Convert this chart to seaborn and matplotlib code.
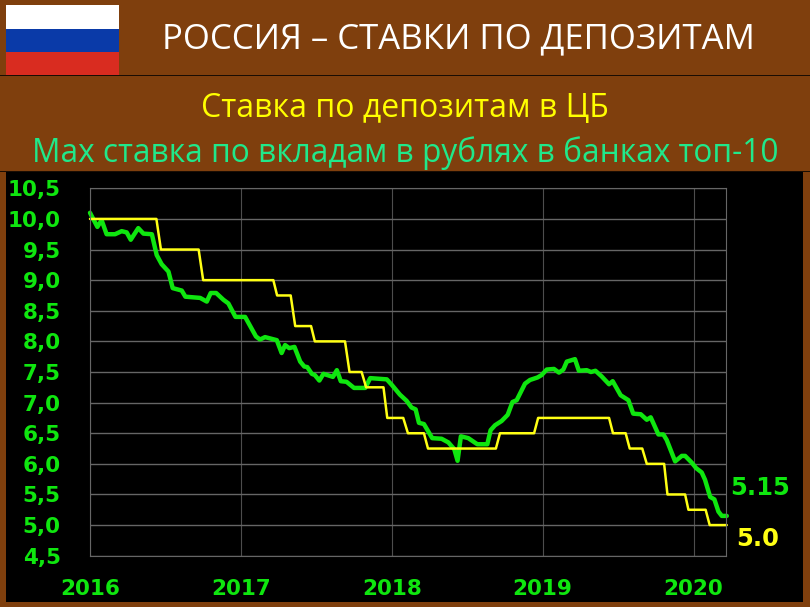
import pandas as pd
import seaborn as sns
import matplotlib.pyplot as plt
from matplotlib.patches import Rectangle

# данные: ставка по депозитам в ЦБ
cb_time = [2016.0, 2016.44, 2016.47, 2016.72, 2016.75, 2017.215, 2017.24, 2017.33, 2017.36, 2017.465,
           2017.49, 2017.69, 2017.72, 2017.80, 2017.83, 2017.945, 2017.97, 2018.076, 2018.107, 2018.213,
           2018.24, 2018.69, 2018.717, 2018.943, 2018.97, 2019.44, 2019.466, 2019.55, 2019.577, 2019.66,
           2019.69, 2019.805, 2019.827, 2019.944, 2019.966, 2020.08, 2020.107, 2020.22]
cb_rate = [10.0, 10.0, 9.5, 9.5, 9.0, 9.0, 8.75, 8.75, 8.25, 8.25,
           8.0, 8.0, 7.5, 7.5, 7.25, 7.25, 6.75, 6.75, 6.5, 6.5,
           6.25, 6.25, 6.5, 6.5, 6.75, 6.75, 6.5, 6.5, 6.25, 6.25,
           6.0, 6.0, 5.5, 5.5, 5.25, 5.25, 5.0, 5.0]

# макс. ставка по вкладам в рублях, топ-10 банков
top10_time = [2016.0, 2016.049, 2016.077, 2016.11, 2016.166, 2016.21, 2016.243, 2016.27, 2016.32, 2016.354,
              2016.41, 2016.442, 2016.475, 2016.52, 2016.548, 2016.608, 2016.632, 2016.73, 2016.774, 2016.80,
              2016.836, 2016.884, 2016.917, 2016.964, 2017.028, 2017.10, 2017.127, 2017.16, 2017.238, 2017.27,
              2017.293, 2017.32, 2017.355, 2017.393, 2017.42, 2017.44, 2017.47, 2017.49, 2017.52, 2017.547,
              2017.61, 2017.636, 2017.662, 2017.70, 2017.75, 2017.824, 2017.857, 2017.967, 2018.0, 2018.054,
              2018.098, 2018.131, 2018.158, 2018.18, 2018.213, 2018.268, 2018.33, 2018.375, 2018.414, 2018.436,
              2018.458, 2018.507, 2018.567, 2018.633, 2018.655, 2018.684, 2018.728, 2018.768, 2018.80, 2018.828,
              2018.883, 2018.916, 2018.965, 2018.993, 2019.027, 2019.075, 2019.108, 2019.137, 2019.16, 2019.214,
              2019.24, 2019.292, 2019.32, 2019.35, 2019.39, 2019.44, 2019.464, 2019.517, 2019.568, 2019.60,
              2019.65, 2019.69, 2019.716, 2019.767, 2019.80, 2019.822, 2019.878, 2019.922, 2019.944, 2019.988,
              2020.017, 2020.054, 2020.076, 2020.11, 2020.138, 2020.165, 2020.187, 2020.22]
top10_rate = [10.10, 9.87, 9.98, 9.75, 9.75, 9.80, 9.78, 9.66, 9.85, 9.76,
              9.75, 9.41, 9.26, 9.14, 8.87, 8.83, 8.73, 8.71, 8.65, 8.79,
              8.79, 8.68, 8.62, 8.40, 8.40, 8.08, 8.03, 8.07, 8.02, 7.81,
              7.94, 7.89, 7.91, 7.67, 7.59, 7.58, 7.47, 7.45, 7.36, 7.47,
              7.42, 7.53, 7.35, 7.34, 7.24, 7.24, 7.40, 7.38, 7.29, 7.13,
              7.03, 6.92, 6.89, 6.67, 6.65, 6.42, 6.41, 6.35, 6.24, 6.05,
              6.45, 6.42, 6.32, 6.32, 6.55, 6.63, 6.70, 6.80, 7.01, 7.04,
              7.31, 7.37, 7.41, 7.45, 7.54, 7.55, 7.49, 7.54, 7.67, 7.71,
              7.52, 7.53, 7.50, 7.52, 7.43, 7.30, 7.35, 7.12, 7.04, 6.82,
              6.81, 6.72, 6.76, 6.48, 6.48, 6.39, 6.04, 6.13, 6.13, 6.02,
              5.93, 5.86, 5.74, 5.46, 5.42, 5.22, 5.15, 5.15]

y_ticks = [4.5, 5.0, 5.5, 6.0, 6.5, 7.0, 7.5, 8.0, 8.5, 9.0, 9.5, 10.0, 10.5]
y_labels = ['4,5', '5,0', '5,5', '6,0', '6,5', '7,0', '7,5', '8,0', '8,5', '9,0', '9,5', '10,0', '10,5']
x_ticks = [2016, 2017, 2018, 2019, 2020]

W, H = 810, 607
BROWN = '#7f3f0d'
GREEN = '#0fe60f'
YELLOW = '#ffff14'
GRID = '#666666'

sns.set_style('dark')
plt.rcParams['font.family'] = ['Open Sans', 'DejaVu Sans']

fig = plt.figure(figsize=(W / 100, H / 100), dpi=100, facecolor=BROWN)


# прямоугольник в пикселях картинки
def box(x0, y0, x1, y1, color):
    fig.patches.append(Rectangle((x0 / W, 1 - y1 / H), (x1 - x0) / W, (y1 - y0) / H,
                                 transform=fig.transFigure, facecolor=color, edgecolor='none'))


# флаг, разделители и чёрная подложка
box(6, 5, 119, 29, '#ffffff')
box(6, 29, 119, 52, '#0a3aa8')
box(6, 52, 119, 75, '#d92c20')
box(0, 75, W, 76, '#1a0d03')
box(0, 171, W, 172, '#1a0d03')
box(6, 172, 803, 602, '#000000')

# заголовки
fig.text(458 / W, 1 - 39 / H, 'РОССИЯ – СТАВКИ ПО ДЕПОЗИТАМ', color='white', fontsize=25,
         ha='center', va='center')
fig.text(405 / W, 1 - 108 / H, 'Ставка по депозитам в ЦБ', color='#ffff00', fontsize=23,
         ha='center', va='center')
fig.text(405 / W, 1 - 153 / H, 'Мах ставка по вкладам в рублях в банках топ-10', color='#20e88a',
         fontsize=22.8, ha='center', va='center')

# график
ax = fig.add_axes([90 / W, 1 - 555.7 / H, (726 - 90) / W, (555.7 - 188.3) / H])
ax.set_zorder(5)
ax.set_facecolor('#000000')

cb_df = pd.DataFrame({'time': cb_time, 'rate': cb_rate})
top10_df = pd.DataFrame({'time': top10_time, 'rate': top10_rate})
sns.lineplot(data=top10_df, x='time', y='rate', color=GREEN, linewidth=3.2, estimator=None, sort=False, ax=ax,
             clip_on=False)
sns.lineplot(data=cb_df, x='time', y='rate', color=YELLOW, linewidth=1.8, estimator=None, sort=False, ax=ax,
             clip_on=False)

ax.set_xlim(2016, 2020.215)
ax.set_ylim(4.5, 10.5)
ax.set_xlabel('')
ax.set_ylabel('')
ax.set_xticks(x_ticks)
ax.set_yticks(y_ticks)
ax.set_yticklabels(y_labels)
ax.grid(True, axis='y', color=GRID, linewidth=1.0)
ax.grid(True, axis='x', color='#4d4d4d', linewidth=0.8)
ax.set_axisbelow(True)
for s in ax.spines.values():
    s.set_visible(True)
    s.set_color(GRID)
    s.set_linewidth(0.8)

ax.tick_params(axis='x', length=5, color='#333333', pad=11.5, labelcolor=GREEN)
ax.tick_params(axis='y', length=0, pad=21, labelcolor=GREEN)
for lb in ax.get_xticklabels() + ax.get_yticklabels():
    lb.set_family('DejaVu Sans')
    lb.set_fontweight('bold')
    lb.set_fontsize(15.5)

# подписи последних значений
fig.text(760 / W, 1 - 488 / H, '5.15', color=GREEN, fontsize=17.5, fontweight='bold',
         family='DejaVu Sans', ha='center', va='center')
fig.text(758 / W, 1 - 539 / H, '5.0', color=YELLOW, fontsize=17.5, fontweight='bold',
         family='DejaVu Sans', ha='center', va='center')

plt.savefig('out.png', dpi=100, facecolor=fig.get_facecolor())
